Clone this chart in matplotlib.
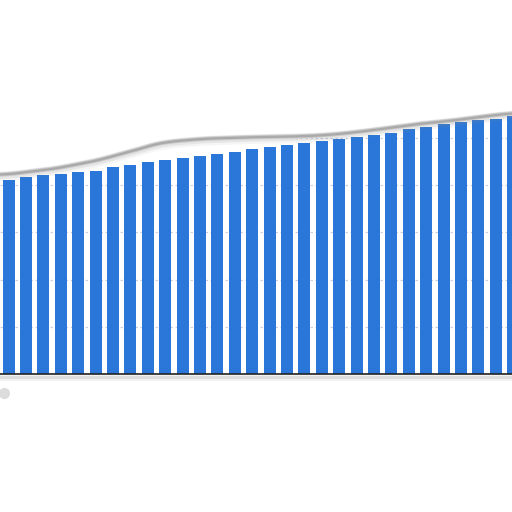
import matplotlib
matplotlib.use("Agg")
import matplotlib.pyplot as plt
from matplotlib.patches import Polygon
import numpy as np

# bar values (gridlines every 20)
values = [82.2, 83.3, 84.2, 84.6, 85.6, 86.0, 87.6, 88.7, 89.8, 90.7,
          91.5, 92.4, 93.2, 93.9, 95.3, 96.2, 97.0, 97.8, 98.6, 99.4,
          100.3, 101.4, 102.1, 103.7, 104.8, 106.1, 106.8, 107.5, 108.2, 109.5]
# curled page edge above the bars, one reading per bar
edge = [84.5, 85.6, 86.4, 87.4, 89.0, 90.2, 92.4, 94.1, 96.6, 98.3,
        98.9, 99.6, 99.9, 100.1, 100.4, 100.4, 100.6, 100.8, 101.1, 101.7,
        102.5, 103.4, 104.4, 105.5, 106.3, 107.0, 107.8, 108.9, 109.7, 110.6]
grid_ticks = [20, 40, 60, 80, 100]

x = np.arange(len(values))

fig = plt.figure(figsize=(5.12, 5.12), dpi=100)
ax = fig.add_axes([0, 138 / 512, 1, 374 / 512])
ax.set_xlim(-0.5, 28.93)
ax.set_ylim(0, 158.5)

# smoothed edge
xe = np.linspace(-0.5, x[-1], 300)
ye = np.interp(xe, x, edge)
ye = np.convolve(np.pad(ye, 8, mode="edge"), np.ones(17) / 17, mode="valid")

# everything under the edge is the "paper"; gridlines only show there
paper = Polygon(np.column_stack([np.r_[xe, xe[-1], xe[0]], np.r_[ye - 1, 0, 0]]),
                closed=True, transform=ax.transData, fill=False, lw=0)
ax.add_patch(paper)
for t in grid_ticks:
    gl = ax.axhline(t, color="#c9d2e3", lw=0.9, ls=(0, (2, 2)), zorder=1)
    gl.set_clip_path(paper)

ax.bar(x, values, width=0.69, color="#2a77d9", zorder=2)

# soft gray edge line (drawn a few times to look blurred)
for lw, a, dy in [(7, 0.08, -0.8), (5, 0.15, -0.4), (3, 0.3, 0), (1.6, 0.5, 0)]:
    ax.plot(xe, ye + dy, color="#8a8a8a", lw=lw, alpha=a, solid_capstyle="round", zorder=3)

# baseline and its shadow
ax.axhline(0, color="#222222", lw=1.2, zorder=4, clip_on=False)
for off, lw, a in [(-1.5, 4, 0.12), (-1.2, 2, 0.2)]:
    ax.axhline(off, color="#888888", lw=lw, alpha=a, zorder=1, clip_on=False)

# cut off legend marker
ax.plot([-0.27], [-8], "o", ms=7, color="#dcdcdc", clip_on=False)

ax.set_xticks([])
ax.set_yticks([])
for s in ax.spines.values():
    s.set_visible(False)

fig.savefig("out.png", dpi=100, facecolor="white")
